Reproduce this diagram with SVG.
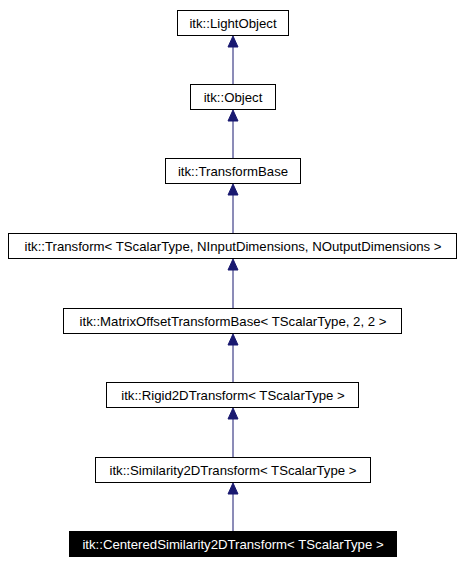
<svg xmlns="http://www.w3.org/2000/svg" width="463" height="564" viewBox="0 0 463 564">
<defs>
<style>
.box{fill:#ffffff;stroke:#000000;stroke-width:1}
.cur{fill:#000000;stroke:#000000;stroke-width:1}
.t{font-family:"Liberation Sans",Arial,Helvetica,sans-serif;font-size:13.2px;fill:#000000;text-anchor:middle}
.tw{fill:#ffffff}
.e{stroke:#191970;stroke-width:1;fill:none}
.ah{fill:#191970;stroke:#191970;stroke-width:1}
</style>
</defs>
<rect width="463" height="564" fill="#ffffff"/>
<g id="connectors">
<line class="e" x1="233" y1="84" x2="233" y2="47"/><polygon class="ah" points="233,36 228,47 238,47"/>
<line class="e" x1="233" y1="158" x2="233" y2="121"/><polygon class="ah" points="233,110 228,121 238,121"/>
<line class="e" x1="233" y1="233" x2="233" y2="195"/><polygon class="ah" points="233,184 228,195 238,195"/>
<line class="e" x1="233" y1="308" x2="233" y2="270"/><polygon class="ah" points="233,259 228,270 238,270"/>
<line class="e" x1="233" y1="382" x2="233" y2="345"/><polygon class="ah" points="233,334 228,345 238,345"/>
<line class="e" x1="233" y1="457" x2="233" y2="419"/><polygon class="ah" points="233,408 228,419 238,419"/>
<line class="e" x1="233" y1="531" x2="233" y2="494"/><polygon class="ah" points="233,483 228,494 238,494"/>
</g>
<g id="node1"><rect class="box" x="177.5" y="10.5" width="111" height="25"/><text class="t" x="233" y="27.5">itk::LightObject</text></g>
<g id="node2"><rect class="box" x="190.5" y="84.5" width="85" height="25"/><text class="t" x="233" y="101.5">itk::Object</text></g>
<g id="node3"><rect class="box" x="165.5" y="158.5" width="135" height="25"/><text class="t" x="233" y="175.5">itk::TransformBase</text></g>
<g id="node4"><rect class="box" x="8.5" y="233.5" width="448" height="25"/><text class="t" x="233" y="250.5">itk::Transform&lt; TScalarType, NInputDimensions, NOutputDimensions &gt;</text></g>
<g id="node5"><rect class="box" x="63.5" y="308.5" width="338" height="25"/><text class="t" x="233" y="325.5">itk::MatrixOffsetTransformBase&lt; TScalarType, 2, 2 &gt;</text></g>
<g id="node6"><rect class="box" x="106.5" y="382.5" width="252" height="25"/><text class="t" x="233" y="399.5">itk::Rigid2DTransform&lt; TScalarType &gt;</text></g>
<g id="node7"><rect class="box" x="95.5" y="457.5" width="275" height="25"/><text class="t" x="233" y="474.5">itk::Similarity2DTransform&lt; TScalarType &gt;</text></g>
<g id="node8"><rect class="cur" x="69.5" y="531.5" width="327" height="25"/><text class="t tw" x="233" y="548.5">itk::CenteredSimilarity2DTransform&lt; TScalarType &gt;</text></g>
</svg>
